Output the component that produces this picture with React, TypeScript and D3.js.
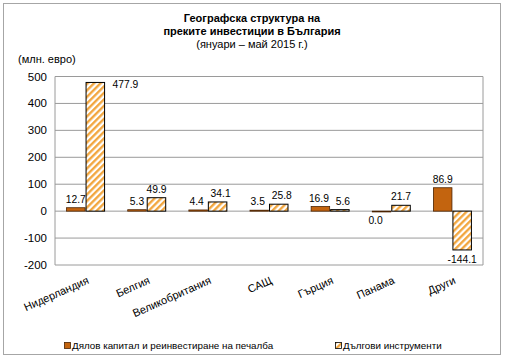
import React from "react";
import * as d3 from "d3";

const categories = ["Нидерландия", "Белгия", "Великобритания", "САЩ", "Гърция", "Панама", "Други"];
const equity = [12.7, 5.3, 4.4, 3.5, 16.9, 0.0, 86.9];
const debt = [477.9, 49.9, 34.1, 25.8, 5.6, 21.7, -144.1];
const seriesNames = ["Дялов капитал и реинвестиране на печалба", "Дългови инструменти"];
const yTicks = [-200, -100, 0, 100, 200, 300, 400, 500];
const titleLines = ["Географска структура на", "преките инвестиции в България"];
const subtitle = "(януари – май 2015 г.)";
const unitLabel = "(млн. евро)";

const W = 505;
const H = 359;
const M = { left: 55, right: 483, top: 76.5, bottom: 265 };
const FONT = "'Liberation Sans', Arial, sans-serif";
const BROWN = "#C3640F";
const ORANGE = "#F2A43A";

export default function App() {
  const x0 = d3.scaleBand<string>().domain(categories).range([M.left, M.right]).padding(0);
  const x1 = d3.scaleBand<string>().domain(["equity", "debt"]).range([-19, 19]).paddingInner(0.05);
  const y = d3.scaleLinear().domain([-200, 500]).range([M.bottom, M.top]);
  const bw = x1.bandwidth();

  const series = [
    { key: "equity", values: equity },
    { key: "debt", values: debt },
  ];

  const labels: JSX.Element[] = [];
  const bars: JSX.Element[] = [];
  series.forEach((s) => {
    s.values.forEach((v, i) => {
      const cx = (x0(categories[i]) as number) + x0.bandwidth() / 2;
      const bx = cx + (x1(s.key) as number);
      const yTop = y(Math.max(v, 0));
      const yBot = y(Math.min(v, 0));
      const h = Math.max(yBot - yTop, 0.8);
      bars.push(
        <rect
          key={s.key + i}
          x={bx}
          y={v >= 0 ? yTop : yBot - (yBot - yTop)}
          width={bw}
          height={h}
          fill={s.key === "equity" ? BROWN : "url(#hatch)"}
          stroke={s.key === "equity" ? "#4a2200" : "#000"}
          strokeWidth={s.key === "equity" ? 0.8 : 1}
        />
      );
      const txt = v.toFixed(1);
      let lx = bx + bw / 2;
      let ly: number;
      let anchor: "middle" | "start" = "middle";
      if (v > 0) {
        ly = yTop - 5;
        if (ly < M.top + 14) {
          lx = bx + bw + 8;
          ly = yTop + 6;
          anchor = "start";
        }
        // nudge small neighbouring labels apart
        const other = s.key === "equity" ? debt[i] : equity[i];
        if (Math.abs(y(other) - yTop) < 12 && other > 0) lx += s.key === "equity" ? -1.5 : 3;
      } else {
        ly = yBot + 13;
        if (v === 0) lx -= 6;
      }
      labels.push(
        <text key={"l" + s.key + i} x={lx} y={ly} textAnchor={anchor} fontSize={10.3} fill="#000">
          {txt}
        </text>
      );
    });
  });

  return (
    <svg width={W} height={H} style={{ position: "absolute", left: 0, top: 0 }} fontFamily={FONT}>
      <defs>
        <pattern id="hatch" patternUnits="userSpaceOnUse" width={4.6} height={4.6} patternTransform="rotate(45)">
          <rect width={4.6} height={4.6} fill="#fff" />
          <line x1={1.2} y1={0} x2={1.2} y2={4.6} stroke={ORANGE} strokeWidth={2.3} />
        </pattern>
      </defs>
      <rect x={0} y={0} width={W} height={H} fill="#fff" />
      <rect x={3.5} y={3.5} width={497} height={351} fill="#fff" stroke="#a6a6a6" strokeWidth={1} />

      {titleLines.map((t, i) => (
        <text key={t} x={252} y={22 + i * 12.8} textAnchor="middle" fontSize={11} fontWeight="bold">
          {t}
        </text>
      ))}
      <text x={252} y={47.5} textAnchor="middle" fontSize={11}>
        {subtitle}
      </text>
      <text x={18} y={63} fontSize={11}>
        {unitLabel}
      </text>

      {yTicks.map((t) => (
        <g key={t}>
          <line x1={M.left} x2={M.right} y1={y(t)} y2={y(t)} stroke="#9a9a9a" strokeWidth={1} />
          <text x={47} y={y(t) + 4} textAnchor="end" fontSize={11.5}>
            {t}
          </text>
        </g>
      ))}
      <line x1={M.left} x2={M.left} y1={M.top} y2={M.bottom} stroke="#9a9a9a" />
      <line x1={M.right} x2={M.right} y1={M.top} y2={M.bottom} stroke="#9a9a9a" />

      {bars}
      {labels}

      {categories.map((c) => {
        const cx = (x0(c) as number) + x0.bandwidth() / 2 + 4;
        return (
          <text key={c} transform={`translate(${cx},${M.bottom + 18}) rotate(-24)`} textAnchor="end" fontSize={11}>
            {c}
          </text>
        );
      })}

      <rect x={64.5} y={342.5} width={6} height={6} fill={BROWN} stroke="#4a2200" strokeWidth={0.8} />
      <text x={72} y={349} fontSize={9.8}>
        {seriesNames[0]}
      </text>
      <rect x={335.5} y={342.5} width={6} height={6} fill="url(#hatch)" stroke="#000" strokeWidth={0.8} />
      <text x={343} y={349} fontSize={9.8}>
        {seriesNames[1]}
      </text>
    </svg>
  );
}
